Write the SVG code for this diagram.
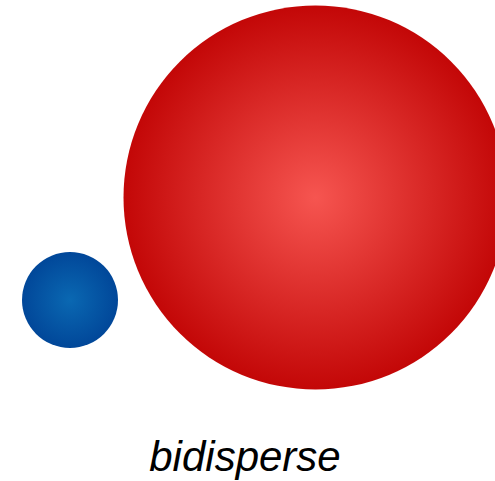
<svg xmlns="http://www.w3.org/2000/svg" width="495" height="481" viewBox="0 0 495 481">
<defs>
<radialGradient id="gRed" cx="0.5" cy="0.5" r="0.5">
<stop offset="0" stop-color="#f65550"/>
<stop offset="1" stop-color="#c30707"/>
</radialGradient>
<radialGradient id="gBlue" cx="0.5" cy="0.5" r="0.5">
<stop offset="0" stop-color="#0a68b2"/>
<stop offset="1" stop-color="#014799"/>
</radialGradient>
<style>
.lbl{font-family:"Liberation Sans",Arial,sans-serif;font-style:italic;font-size:42px;fill:#000;}
</style>
</defs>
<rect width="495" height="481" fill="#fff"/>
<g id="large">
<circle cx="315.5" cy="197.5" r="192" fill="url(#gRed)"/>
</g>
<g id="small">
<circle cx="70" cy="300" r="48" fill="url(#gBlue)"/>
</g>
<g id="connectors"/>
<g id="label">
<text class="lbl" x="245" y="471" text-anchor="middle">bidisperse</text>
</g>
</svg>
